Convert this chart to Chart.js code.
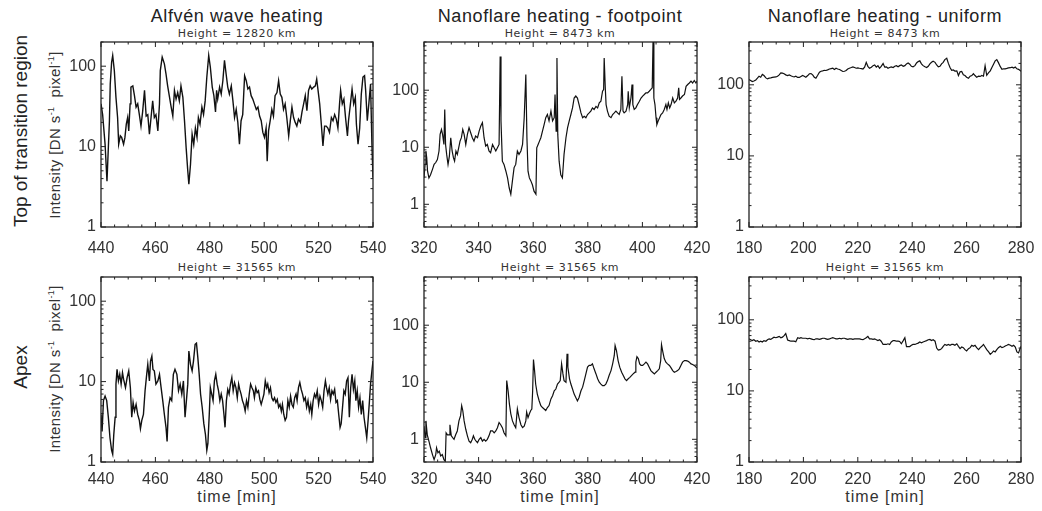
<!DOCTYPE html>
<html>
<head>
<meta charset="utf-8">
<script src="https://cdn.jsdelivr.net/npm/chart.js@4.4.1/dist/chart.umd.min.js"></script>
<style>
  body { margin: 0; background: #fff; }
  #page { position: relative; width: 1042px; height: 511px; overflow: hidden;
          font-family: "Liberation Sans", Arial, sans-serif; color: #222; }
  .panel { position: absolute; }
  .txt { position: absolute; white-space: nowrap; transform: translateX(-50%); }
  .title { font-size: 18px; line-height: 18px; letter-spacing: 0.6px; }
  .sub { font-family: "DejaVu Sans", sans-serif; font-size: 11px; line-height: 11px; letter-spacing: 0.6px; color: #333; }
  .xlab { font-size: 16px; line-height: 16px; letter-spacing: 1px; color: #333; }
  .rot { position: absolute; white-space: nowrap; transform: translate(-50%, -50%) rotate(-90deg); }
  .row { font-size: 19px; line-height: 19px; }
  .ylab { font-size: 15px; line-height: 15px; letter-spacing: 0.4px; color: #333; }
  .ylab sup { font-size: 9px; line-height: 0; vertical-align: 6px; }
</style>
</head>
<body>
<div id="page">
  <div class="txt title" style="left:237px;top:7px">Alfvén wave heating</div>
  <div class="txt title" style="left:560px;top:7px">Nanoflare heating - footpoint</div>
  <div class="txt title" style="left:885px;top:7px">Nanoflare heating - uniform</div>

  <div class="txt sub" style="left:237px;top:28px">Height = 12820 km</div>
  <div class="txt sub" style="left:560px;top:28px">Height = 8473 km</div>
  <div class="txt sub" style="left:885px;top:28px">Height = 8473 km</div>
  <div class="txt sub" style="left:237px;top:262px">Height = 31565 km</div>
  <div class="txt sub" style="left:560px;top:262px">Height = 31565 km</div>
  <div class="txt sub" style="left:885px;top:262px">Height = 31565 km</div>

  <div class="txt xlab" style="left:237px;top:489px">time [min]</div>
  <div class="txt xlab" style="left:560px;top:489px">time [min]</div>
  <div class="txt xlab" style="left:885px;top:489px">time [min]</div>

  <div class="rot row" style="left:20px;top:131px">Top of transition region</div>
  <div class="rot row" style="left:20px;top:367px">Apex</div>
  <div class="rot ylab" style="left:54px;top:135px">Intensity [DN s<sup>-1</sup>&nbsp; pixel<sup>-1</sup>]</div>
  <div class="rot ylab" style="left:54px;top:369px">Intensity [DN s<sup>-1</sup>&nbsp; pixel<sup>-1</sup>]</div>
</div>

<script>
// Alfvén wave heating, top of transition region
const alfvenTopTime = [
  440.0,440.6,441.5,442.2,443.1,443.4,443.9,444.3,444.9,445.5,
  446.1,446.5,447.1,447.6,448.3,448.8,449.3,449.8,450.2,450.7,
  451.0,451.7,452.3,452.9,453.5,454.1,454.7,455.3,456.0,456.6,
  457.2,457.8,458.4,459.0,459.6,460.2,460.9,461.5,461.8,462.5,
  463.3,463.9,464.5,465.2,465.8,466.4,467.0,467.6,468.2,468.8,
  469.4,470.1,470.7,471.3,471.9,472.3,472.9,473.5,474.1,474.7,
  475.3,475.8,476.4,477.1,477.7,478.3,478.9,479.6,480.2,480.9,
  481.5,482.1,482.5,482.9,483.6,484.2,484.8,485.4,486.0,486.6,
  487.2,487.9,488.5,489.1,489.7,490.3,490.9,491.5,492.1,492.8,
  493.4,494.0,494.6,495.2,495.8,496.4,497.1,497.7,498.3,498.9,
  499.5,500.1,500.7,501.1,501.6,502.2,502.8,503.4,504.0,504.7,
  505.3,505.9,506.5,507.1,507.7,508.3,509.0,509.6,510.2,510.8,
  511.4,512.0,512.6,513.3,513.9,514.5,515.1,515.7,516.3,516.9,
  517.5,518.2,518.8,519.3,519.8,520.4,521.0,521.6,522.2,522.8,
  523.4,524.0,524.7,525.3,525.9,526.5,527.1,527.7,528.1,528.7,
  529.3,529.9,530.6,531.0,531.7,532.3,532.9,533.5,533.9,534.5,
  535.1,535.7,536.3,536.9,537.3,537.9,538.5,539.1,539.6,540.0
];
const alfvenTopVal = [
  34,25,10.7,3.7,21,60,112,136,88,41,
  23,10.7,13.6,13,10.7,13,19,23,15.7,34,
  55,57,43,31,34,25,18,27,50,24,
  25,14.3,23,37,23,25,15.7,34,88,130,
  107,80,57,41,31,24,50,39,47,37,
  57,41,21,9.7,5.0,3.4,6.0,14.3,10.7,17,
  13,23,19,31,25,37,73,136,97,55,
  43,27,50,39,55,45,66,118,80,55,
  45,57,37,23,29,20,10.7,21,25,76,
  66,52,55,43,39,34,29,31,24,21,
  15,13,17,6.6,15.7,21,29,24,43,47,
  66,45,41,29,34,23,13.6,21,31,23,
  20,18,22,20,27,34,43,28,50,57,
  52,55,57,69,50,34,19,10.2,18,18,
  17,15,23,21,25,22,17,34,50,34,
  39,23,13.6,21,34,52,34,41,19,10.7,
  17,45,73,76,50,21,35,60,10.7,4.1
];

// Alfvén wave heating, apex
const alfvenApexTime = [
  440.0,440.4,440.9,441.5,442.1,442.7,443.3,443.9,444.3,444.7,
  445.2,445.5,445.9,446.4,446.9,447.4,447.9,448.3,449.0,449.6,
  450.2,450.8,451.3,451.8,452.3,452.9,453.5,454.1,454.5,455.0,
  455.6,456.2,456.8,457.2,457.8,458.2,458.7,459.1,459.6,460.2,
  460.9,461.5,462.1,462.7,463.3,463.9,464.3,464.8,465.4,466.0,
  466.6,467.2,467.9,468.5,469.1,469.7,470.3,470.9,471.4,471.9,
  472.3,472.9,473.5,474.0,474.6,475.1,475.6,476.1,476.6,477.2,
  477.8,478.4,478.9,479.3,479.8,480.2,480.7,481.2,481.7,482.2,
  482.7,483.2,483.7,484.2,484.7,485.2,485.6,486.1,486.6,487.1,
  487.6,488.1,488.6,489.1,489.6,490.1,490.6,491.0,491.5,492.0,
  492.5,493.0,493.5,494.0,494.5,495.0,495.5,496.0,496.4,496.9,
  497.4,497.9,498.4,498.9,499.4,499.9,500.4,500.9,501.3,501.8,
  502.3,502.8,503.3,503.8,504.3,504.8,505.3,505.8,506.3,506.7,
  507.2,507.7,508.2,508.7,509.2,509.7,510.2,510.7,511.2,511.7,
  512.1,512.6,513.1,513.6,514.1,514.6,515.1,515.6,516.1,516.6,
  517.1,517.5,518.0,518.5,519.0,519.5,520.0,520.5,521.0,521.5,
  522.0,522.5,522.9,523.4,523.9,524.4,524.9,525.4,525.9,526.4,
  526.9,527.4,527.9,528.3,528.8,529.3,529.8,530.3,530.8,531.3,
  531.8,532.3,532.8,533.3,533.7,534.2,534.7,535.2,535.7,536.2,
  536.7,537.2,537.7,538.2,538.7,539.1,539.6,540.0
];
const alfvenApexVal = [
  3.9,2.4,5.8,6.6,5.8,3.6,2.0,1.4,1.25,2.2,
  3.6,9.3,14.2,10.2,12.3,9.3,12.9,10.7,8.4,11.2,
  13.6,8.4,3.6,5.5,4.3,5.2,3.9,3.3,2.6,3.3,
  3.9,7.7,12.3,16.4,10.2,18,20.8,14.2,13.6,9.3,
  10.2,12.3,8.4,5.8,3.9,2.7,1.8,4.8,6.3,5.8,
  12.3,14.2,12.3,7.7,9.3,7.0,10.2,3.6,5.8,9.3,
  24,16.4,13.6,18,29,30,19.9,12.3,7.0,4.8,
  3.0,2.2,1.4,1.7,3.9,8.4,7.0,5.8,10.2,12.3,
  9.3,7.7,5.8,7.0,5.8,3.9,2.7,5.8,8.0,7.0,
  9.3,11.2,7.7,9.7,8.4,6.3,9.3,8.0,7.0,5.8,
  5.2,4.3,5.8,4.8,7.0,9.3,8.4,7.7,6.3,8.4,
  7.3,7.7,6.0,5.2,6.0,7.0,10.2,8.4,9.3,7.3,
  8.4,6.3,5.8,6.3,5.5,6.0,4.8,5.2,4.3,5.2,
  3.9,3.3,3.6,5.8,4.8,6.6,5.2,4.8,6.3,7.0,
  5.8,8.4,9.7,8.0,7.0,5.8,6.3,4.8,5.8,4.3,
  5.2,3.9,5.8,7.0,6.3,7.7,5.2,6.6,5.8,4.8,
  7.7,10.2,8.4,7.0,8.4,6.0,7.7,7.0,8.0,5.5,
  5.8,3.9,2.7,3.0,4.8,7.7,7.0,10.2,11.2,3.6,
  8.4,12.3,8.0,10.2,5.8,7.7,4.8,6.3,3.9,5.8,
  3.6,2.7,2.0,3.3,5.8,9.3,13.6,18
];

// Nanoflare heating (footpoint), top of transition region
const footTopTime = [
  320.0,320.4,320.7,321.0,321.3,321.8,322.4,323.1,323.7,324.3,
  324.9,325.5,325.9,326.4,326.8,327.3,327.6,327.9,328.3,328.8,
  329.3,329.8,330.3,330.8,331.2,331.7,332.2,332.7,333.2,333.7,
  334.2,334.7,335.3,335.9,336.5,337.1,337.7,338.3,338.9,339.6,
  340.2,340.8,341.4,342.0,342.6,343.2,343.8,344.4,345.1,345.7,
  346.3,346.9,347.5,347.9,348.2,348.7,349.3,350.0,350.6,351.2,
  351.8,352.4,353.0,353.6,354.2,354.8,355.5,356.1,356.7,357.3,
  357.7,358.1,358.6,359.1,359.7,360.3,361.0,361.3,361.8,362.3,
  362.8,363.4,364.0,364.6,365.2,365.8,366.5,367.1,367.7,368.0,
  368.4,368.7,369.0,369.5,370.1,370.7,371.3,372.0,372.6,373.2,
  373.8,374.4,375.0,375.6,376.2,376.8,377.5,378.1,378.7,379.3,
  379.9,380.5,381.1,381.7,382.3,383.0,383.6,384.2,384.8,385.4,
  385.8,386.0,386.4,386.7,387.2,387.8,388.5,389.1,389.7,390.3,
  390.9,391.5,392.1,392.5,392.9,393.3,394.0,394.6,394.8,395.2,
  395.8,396.2,396.5,397.0,397.6,398.2,398.9,399.5,400.1,400.7,
  401.3,401.9,402.5,403.1,403.6,403.9,404.2,404.6,405.0,405.3,
  405.8,406.3,406.8,407.4,408.0,408.6,409.0,409.5,410.0,410.5,
  411.1,411.7,412.3,412.9,413.3,413.6,414.1,414.7,415.4,416.0,
  416.6,417.2,417.8,418.4,419.0,419.6,420.0
];
const footTopVal = [
  2.9,5.0,8.6,6.5,3.8,2.9,3.3,4.1,5.0,5.4,
  6.1,8.6,16.8,20.5,16.8,11.2,46,11.2,7.5,5.0,
  7.0,14.7,8.6,6.5,5.7,8.6,7.5,9.8,12.8,14.7,
  20.5,16.8,11.2,16.8,22,18,14.7,12.8,15.7,14.7,
  19.2,23.5,27,14.7,10.5,11.2,8.6,8.0,11.2,9.8,
  8.6,9.8,11.2,390,29,5.7,5.0,3.8,2.9,1.95,
  1.5,2.6,4.4,5.0,8.6,7.5,8.6,11.2,33,188,
  14.7,3.8,2.9,2.6,2.2,1.7,1.5,9.8,11.2,12.8,
  14.7,19.2,25,33,37.5,29,43,29,33,84,
  19.2,368,16.8,5.7,3.3,2.9,7.5,14.7,22,29,
  37.5,49,73,79,73,56,40,33,35,33,
  37.5,40,43,49,46,52,49,60,64,96,
  103,368,110,56,43,35,33,37.5,40,43,
  40,37.5,46,176,43,40,43,56,96,49,
  73,126,56,46,49,56,64,73,79,84,
  90,90,96,103,110,750,73,56,33,25,
  29,33,37.5,40,46,56,46,60,49,56,
  73,60,64,73,110,69,73,79,84,117,
  126,134,144,134,148,134,144
];

// Nanoflare heating (footpoint), apex
const footApexTime = [
  320.0,320.4,320.7,321.2,321.8,322.4,323.1,323.7,324.3,324.6,
  325.1,325.6,326.1,326.7,327.3,327.8,328.1,328.6,329.2,329.5,
  330.0,330.5,331.0,331.6,332.2,332.8,333.4,333.8,334.2,334.7,
  335.3,335.9,336.5,337.1,337.7,338.1,338.6,339.1,339.6,340.2,
  340.8,341.4,342.0,342.6,343.2,343.8,344.4,345.1,345.7,346.3,
  346.9,347.5,348.1,348.7,349.3,350.0,350.3,350.8,351.3,351.8,
  352.4,353.0,353.6,354.2,354.8,355.5,356.1,356.7,357.3,357.6,
  358.1,358.6,359.1,359.5,359.8,360.1,360.5,360.9,361.5,362.2,
  362.8,363.4,364.0,364.6,365.2,365.8,366.5,367.1,367.7,368.3,
  368.9,369.5,369.9,370.4,370.9,371.3,372.0,372.4,372.7,373.3,
  373.8,374.4,375.0,375.6,376.2,376.8,377.5,378.1,378.7,379.3,
  379.9,380.5,381.1,381.7,382.3,383.0,383.6,384.2,384.8,385.4,
  386.0,386.6,387.2,387.8,388.5,389.1,389.7,390.0,390.5,391.1,
  391.7,392.4,393.0,393.6,394.2,394.8,395.4,396.0,396.6,397.3,
  397.6,398.0,398.5,399.0,399.5,400.1,400.7,401.3,401.9,402.5,
  403.1,403.7,404.4,405.0,405.6,406.2,406.7,407.0,407.5,408.0,
  408.6,409.2,409.9,410.5,411.1,411.7,412.3,412.9,413.5,414.1,
  414.7,415.4,416.0,416.6,417.2,417.8,418.4,419.0,419.6,420.0
];
const footApexVal = [
  1.7,1.07,2.1,1.2,0.93,0.71,0.54,0.44,0.54,0.71,
  0.58,0.62,0.51,0.54,0.44,0.41,1.3,1.2,1.2,1.8,
  1.15,1.07,1.0,1.2,1.4,2.1,2.6,3.9,3.2,2.1,
  1.5,1.15,0.93,0.87,1.0,1.15,1.0,0.93,0.87,1.0,
  1.07,0.93,1.0,0.93,1.0,1.15,1.4,1.4,1.3,1.4,
  1.6,1.97,1.8,1.6,1.3,1.15,10.7,7.1,4.1,2.8,
  2.1,1.8,1.6,3.4,2.4,1.8,1.6,1.7,2.1,3.0,
  2.4,2.8,3.2,3.4,7.1,25,16,9.3,6.2,4.7,
  3.9,3.6,3.4,3.2,3.6,3.9,5.1,5.8,7.1,7.6,
  9.3,10,10.7,21,14,10.7,10,31.6,18.4,11.5,
  9.3,7.6,6.2,5.4,4.7,5.4,7.1,8.2,10.7,14,
  18.4,19.7,19.7,21,17.2,14,11.5,10,9.3,8.7,
  8.7,9.3,10.7,13.1,16,21,29.5,44,36,24,
  18.4,15,13.1,11.5,10.7,11.5,12.2,13.1,14,15,
  22.5,28,26,21,19.7,19.7,21,22.5,21,18.4,
  16,15,14,15,16,17.2,24,45.6,33.8,26,
  22.5,21,19.7,17.9,16,15,15.4,16,17.2,19.7,
  22.5,24,24,23.5,22.5,21,20.5,19.7,18.4,17.9
];

// Nanoflare heating (uniform): both heights share one time axis
const uniformTime = [
  180.0,180.6,181.2,181.8,182.5,183.1,183.7,184.3,184.9,185.5,
  186.2,186.8,187.4,188.0,188.6,189.2,189.9,190.5,191.1,191.7,
  192.3,192.9,193.5,194.2,194.8,195.4,196.0,196.6,197.2,197.9,
  198.5,199.1,199.7,200.3,200.9,201.6,202.2,202.8,203.4,204.0,
  204.6,205.2,205.9,206.5,207.1,207.7,208.3,208.9,209.6,210.2,
  210.8,211.4,212.0,212.6,213.3,213.9,214.5,215.1,215.7,216.3,
  216.9,217.6,218.2,218.8,219.4,220.0,220.6,221.3,221.9,222.5,
  223.1,223.7,224.3,225.0,225.6,226.2,226.8,227.4,228.0,228.6,
  229.3,229.9,230.5,231.1,231.7,232.3,233.0,233.6,234.2,234.8,
  235.4,236.0,236.7,237.3,237.9,238.5,239.1,239.7,240.3,241.0,
  241.6,242.2,242.8,243.4,244.0,244.7,245.3,245.9,246.5,247.1,
  247.7,248.4,249.0,249.6,250.2,250.8,251.4,252.0,252.7,253.3,
  253.9,254.5,255.1,255.7,256.4,257.0,257.6,258.2,258.8,259.4,
  260.0,260.7,261.3,261.9,262.5,263.1,263.7,264.4,265.0,265.6,
  266.2,266.8,267.4,268.1,268.7,269.3,269.9,270.5,271.1,271.7,
  272.4,273.0,273.6,274.2,274.8,275.4,276.1,276.7,277.3,277.9,
  278.5,279.1,279.8,280.0
];
const uniformTopVal = [
  119,115,111,113,117,124,132,128,140,135,
  125,121,124,125,127,128,129,132,138,147,
  146,143,138,135,138,134,131,129,132,127,
  127,131,135,132,128,135,143,144,138,128,
  124,135,150,155,157,160,159,162,167,169,
  171,164,171,167,164,159,154,155,159,167,
  171,175,179,175,171,173,171,169,167,177,
  207,182,171,177,186,190,177,186,171,182,
  199,177,179,171,175,179,175,182,186,179,
  186,190,182,186,197,203,195,182,179,186,
  203,212,217,197,186,179,175,182,197,207,
  214,207,190,179,182,197,207,226,236,200,
  175,160,162,156,157,135,152,154,138,135,
  128,124,132,135,143,135,128,132,131,135,
  132,186,136,148,157,175,195,217,226,205,
  180,165,168,168,170,173,174,177,172,178,
  168,165,158,154
];
const uniformApexVal = [
  54,52.5,51,52.5,50,51,48.7,50,48.7,51,
  50,52.5,54,53,55,57,56,57,58.5,56,
  57,60,64,52,51,50,50,50,49,56,
  55,56,55,55,55,54,55,54,53,52.5,
  54,54,53,54,55,55,54,53,54,55,
  56,55,54,54,55,54,55,55,54,53,
  54,54,53,54,54,54,54,53,52.5,54,
  56,58.5,54,54,53,54,52.5,51,52.5,50,
  45,45,45,46,45,48.7,51,51,50,50,
  49.5,46,51,56,42,42,42,43.8,45,45,
  46,47,48.7,47.5,48.7,50,51,52.5,53,51,
  52.5,50,40,37.5,38,39.3,42.4,45,43.8,45,
  43.8,45,45,43.8,46,42.4,39.3,41.5,40.6,38,
  36.5,39.3,40.6,43.8,42.4,43.8,40.6,38,40.6,42.4,
  45,41.5,38,35.3,32.7,34.2,36.5,35.3,38,40.6,
  42.4,40.6,41.5,42.8,43.8,45,43.8,42.4,43.8,41.5,
  35.3,34.2,41,39.3
];

const yLabels = [1, 10, 100];

// panel boxes (plot area in page pixels) and axis ranges
const panels = [
  { left: 101, top: 42,  w: 272, h: 185, xMin: 440, xMax: 540, yMin: 1,   yMax: 200, time: alfvenTopTime,  val: alfvenTopVal,  xPad: 12, lw: 1.4 },
  { left: 424, top: 42,  w: 273, h: 185, xMin: 320, xMax: 420, yMin: 0.4, yMax: 700, time: footTopTime,    val: footTopVal,    xPad: 12, lw: 1.2 },
  { left: 749, top: 42,  w: 272, h: 185, xMin: 180, xMax: 280, yMin: 1,   yMax: 400, time: uniformTime,    val: uniformTopVal, xPad: 12, lw: 1.2 },
  { left: 101, top: 277, w: 272, h: 185, xMin: 440, xMax: 540, yMin: 1,   yMax: 200, time: alfvenApexTime, val: alfvenApexVal, xPad: 8,  lw: 1.4 },
  { left: 424, top: 277, w: 273, h: 185, xMin: 320, xMax: 420, yMin: 0.4, yMax: 700, time: footApexTime,   val: footApexVal,   xPad: 8,  lw: 1.2 },
  { left: 749, top: 277, w: 272, h: 185, xMin: 180, xMax: 280, yMin: 1,   yMax: 400, time: uniformTime,    val: uniformApexVal, xPad: 8, lw: 1.2 }
];

const AXIS_W = 50, PAD_TOP = 5, PAD_RIGHT = 25, AXIS_H = 32;
const tickFont = { family: '"Liberation Sans", Arial, sans-serif', size: 16 };

// IDL-style frame: box plus inward ticks on all four sides
const idlFrame = {
  id: 'idlFrame',
  afterDraw(chart) {
    const { ctx, chartArea: a, scales: { x, y } } = chart;
    ctx.save();
    ctx.strokeStyle = '#222';
    ctx.lineWidth = 1.3;
    ctx.strokeRect(a.left, a.top, a.right - a.left, a.bottom - a.top);
    ctx.lineWidth = 1;
    ctx.beginPath();
    for (let t = x.min; t <= x.max + 1e-6; t += 5) {
      const px = x.getPixelForValue(t);
      const len = t % 20 === 0 ? 5 : 2.5;
      ctx.moveTo(px, a.bottom); ctx.lineTo(px, a.bottom - len);
      ctx.moveTo(px, a.top); ctx.lineTo(px, a.top + len);
    }
    const e0 = Math.floor(Math.log10(y.min)), e1 = Math.ceil(Math.log10(y.max));
    for (let e = e0; e <= e1; e++) {
      for (let m = 1; m <= 9; m++) {
        const v = m * Math.pow(10, e);
        if (v < y.min * 0.999 || v > y.max * 1.001) continue;
        const py = y.getPixelForValue(v);
        const len = m === 1 ? 5 : 2.5;
        ctx.moveTo(a.left, py); ctx.lineTo(a.left + len, py);
        ctx.moveTo(a.right, py); ctx.lineTo(a.right - len, py);
      }
    }
    ctx.stroke();
    ctx.restore();
  }
};

const page = document.getElementById('page');

panels.forEach(p => {
  const box = document.createElement('div');
  box.className = 'panel';
  box.style.left = (p.left - AXIS_W) + 'px';
  box.style.top = (p.top - PAD_TOP) + 'px';
  const canvas = document.createElement('canvas');
  canvas.width = p.w + AXIS_W + PAD_RIGHT;
  canvas.height = p.h + PAD_TOP + AXIS_H;
  box.appendChild(canvas);
  page.appendChild(box);

  new Chart(canvas, {
    type: 'line',
    data: {
      datasets: [{
        data: p.time.map((t, i) => ({ x: t, y: p.val[i] })),
        borderColor: '#111',
        borderWidth: p.lw,
        pointRadius: 0,
        tension: 0
      }]
    },
    options: {
      responsive: false,
      animation: false,
      events: [],
      layout: { padding: { left: 0, top: PAD_TOP, right: PAD_RIGHT, bottom: 0 } },
      plugins: { legend: { display: false }, tooltip: { enabled: false } },
      scales: {
        x: {
          type: 'linear', min: p.xMin, max: p.xMax,
          grid: { display: false, drawTicks: false },
          border: { display: false },
          ticks: { stepSize: 20, padding: p.xPad, font: tickFont, color: '#333',
                   maxRotation: 0, autoSkip: false, callback: v => String(v) },
          afterFit: s => { s.height = AXIS_H; s.paddingLeft = 0; s.paddingRight = 0; }
        },
        y: {
          type: 'logarithmic', min: p.yMin, max: p.yMax,
          grid: { display: false, drawTicks: false },
          border: { display: false },
          ticks: { padding: 5, font: tickFont, color: '#333', callback: v => String(v) },
          afterBuildTicks: s => { s.ticks = yLabels.map(v => ({ value: v })); },
          afterFit: s => { s.width = AXIS_W; s.paddingTop = 0; s.paddingBottom = 0; }
        }
      }
    },
    plugins: [idlFrame]
  });
});
</script>
</body>
</html>
